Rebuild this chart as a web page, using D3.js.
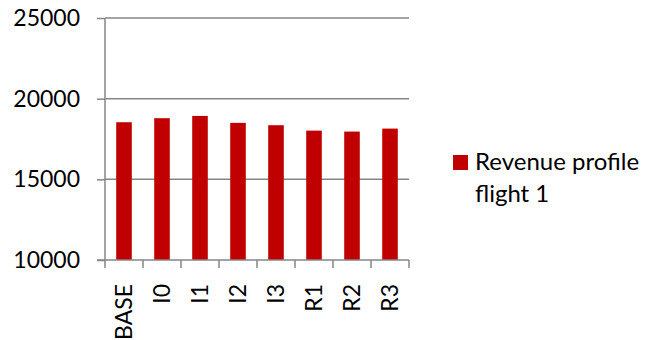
<!DOCTYPE html>
<html>
<head>
<meta charset="utf-8">
<script src="https://cdn.jsdelivr.net/npm/d3@7"></script>
<style>
  html, body { margin: 0; padding: 0; background: #fff; }
  svg { display: block; }
  text { font-family: Lato, "Open Sans", sans-serif; fill: #000; }
</style>
</head>
<body>
<svg id="chart" width="646" height="340"></svg>
<script>
// Scenario names along the category axis
const scenarios = ["BASE", "I0", "I1", "I2", "I3", "R1", "R2", "R3"];
// Revenue for flight 1 in each scenario
const revenue = [18540, 18790, 18930, 18500, 18355, 18020, 17960, 18145];
// Value axis ticks
const yTicks = [10000, 15000, 20000, 25000];
const seriesName = ["Revenue profile", "flight 1"];

const svg = d3.select("#chart");
const plot = { left: 105, right: 409, top: 18, bottom: 260 };
const gridColor = "#868686";
const barColor = "#C00000";
const fontSize = 23;

const y = d3.scaleLinear().domain([10000, 25000]).range([plot.bottom, plot.top]);
const xCat = d3.scaleBand().domain(scenarios).range([plot.left, plot.right]).padding(0);
const xBar = d3.scaleBand().domain(scenarios).range([plot.left, plot.right])
  .paddingInner(0.59).paddingOuter(0.295);

// Horizontal gridlines
svg.append("g")
  .selectAll("line")
  .data(yTicks.filter(d => d > 10000))
  .join("line")
  .attr("x1", plot.left).attr("x2", plot.right)
  .attr("y1", d => y(d)).attr("y2", d => y(d))
  .attr("stroke", gridColor).attr("stroke-width", 1.5);

// Bars
svg.append("g")
  .selectAll("rect")
  .data(scenarios.map((s, i) => ({ s, v: revenue[i] })))
  .join("rect")
  .attr("x", d => xBar(d.s))
  .attr("width", xBar.bandwidth())
  .attr("y", d => y(d.v))
  .attr("height", d => y(10000) - y(d.v))
  .attr("fill", barColor);

// Value axis
const yAxis = svg.append("g")
  .attr("transform", `translate(${plot.left},0)`)
  .call(d3.axisLeft(y).tickValues(yTicks).tickSize(8).tickPadding(17).tickFormat(d3.format("d")));
yAxis.select(".domain").attr("stroke", gridColor).attr("stroke-width", 1.5)
  .attr("d", `M0,${plot.bottom + 8}V${plot.top}`);
yAxis.selectAll(".tick line").attr("stroke", gridColor).attr("stroke-width", 1.5);
yAxis.selectAll(".tick text").attr("font-size", fontSize).attr("fill", "#000");
yAxis.attr("font-family", null);

// Category axis line and boundary ticks
const xg = svg.append("g");
xg.append("line")
  .attr("x1", plot.left - 8).attr("x2", plot.right)
  .attr("y1", plot.bottom).attr("y2", plot.bottom)
  .attr("stroke", gridColor).attr("stroke-width", 1.5);
xg.selectAll("line.tick")
  .data(scenarios.slice(1).concat(["__end"]))
  .join("line")
  .attr("class", "tick")
  .attr("x1", d => d === "__end" ? plot.right : xCat(d))
  .attr("x2", d => d === "__end" ? plot.right : xCat(d))
  .attr("y1", plot.bottom).attr("y2", plot.bottom + 8)
  .attr("stroke", gridColor).attr("stroke-width", 1.5);

// Rotated category labels
xg.selectAll("text")
  .data(scenarios)
  .join("text")
  .attr("transform", d => `translate(${xCat(d) + xCat.bandwidth() / 2},${plot.bottom + 24}) rotate(-90)`)
  .attr("text-anchor", "end")
  .attr("dy", "0.36em")
  .attr("font-size", fontSize)
  .text(d => d);

// Legend
const legend = svg.append("g");
legend.append("rect")
  .attr("x", 453).attr("y", 155).attr("width", 15).attr("height", 15)
  .attr("fill", barColor);
legend.append("text")
  .attr("font-size", 24)
  .selectAll("tspan")
  .data(seriesName)
  .join("tspan")
  .attr("x", 475)
  .attr("y", (d, i) => 170 + i * 32)
  .text(d => d);
</script>
</body>
</html>
